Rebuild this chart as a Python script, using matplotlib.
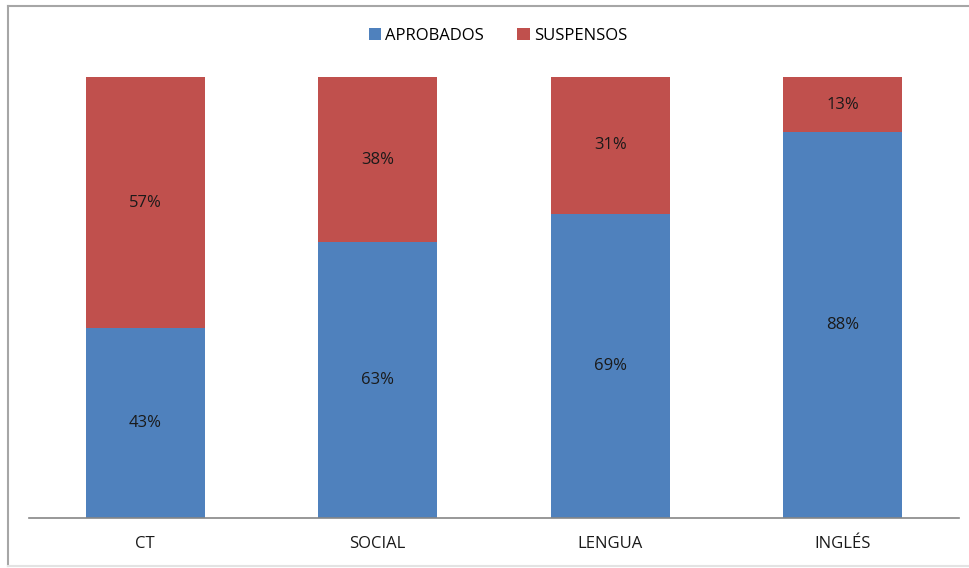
import matplotlib.pyplot as plt
import numpy as np
from matplotlib.lines import Line2D

materias = ["CT", "SOCIAL", "LENGUA", "INGLÉS"]
aprobados = [43, 62.5, 69, 87.5]
suspensos = [57, 37.5, 31, 12.5]
etiquetas_aprob = ["43%", "63%", "69%", "88%"]
etiquetas_susp = ["57%", "38%", "31%", "13%"]

azul = "#4F81BD"
rojo = "#C0504D"

plt.rcParams["font.family"] = ["Open Sans", "DejaVu Sans"]

fig = plt.figure(figsize=(9.69, 5.68), dpi=100)
ax = fig.add_axes([29 / 969, 1 - 518 / 568, 930 / 969, 441 / 568])

x = np.arange(len(materias))
total = np.array(aprobados) + np.array(suspensos)
ap = np.array(aprobados) / total
su = np.array(suspensos) / total

b1 = ax.bar(x, ap, width=0.51, color=azul, label="APROBADOS")
b2 = ax.bar(x, su, width=0.51, bottom=ap, color=rojo, label="SUSPENSOS")

fs = 12
for i in range(len(materias)):
    ax.text(x[i], ap[i] / 2, etiquetas_aprob[i], ha="center", va="center", fontsize=fs, color="#1a1a1a")
    ax.text(x[i], ap[i] + su[i] / 2, etiquetas_susp[i], ha="center", va="center", fontsize=fs, color="#1a1a1a")

ax.set_xlim(-0.5, len(materias) - 0.5)
ax.set_ylim(0, 1)
ax.set_xticks(x)
ax.set_xticklabels(materias, fontsize=fs, color="#1a1a1a")
ax.tick_params(axis="x", length=0, pad=13)
ax.set_yticks([])
for s in ["top", "right", "left"]:
    ax.spines[s].set_visible(False)
ax.spines["bottom"].set_color("#868686")
ax.spines["bottom"].set_linewidth(1.2)

fig.legend(handles=[b1, b2], loc="center", bbox_to_anchor=(498 / 969, 1 - 36 / 568),
           ncol=2, frameon=False, fontsize=fs, handlelength=0.75, handleheight=0.75,
           handletextpad=0.25, columnspacing=2.0)

# marco del gráfico: izquierda y arriba gris, abajo muy claro, sin borde derecho
x0, y0, y1 = 7.5 / 969, 1 - 566 / 568, 1 - 6 / 568
fig.lines.append(Line2D([x0, x0], [y0, y1], transform=fig.transFigure, color="#a6a6a6", lw=1.5))
fig.lines.append(Line2D([x0, 1], [y1, y1], transform=fig.transFigure, color="#a6a6a6", lw=1.5))
fig.lines.append(Line2D([x0, 1], [y0, y0], transform=fig.transFigure, color="#e3e3e3", lw=1.5))

fig.savefig("out.png", dpi=100)
